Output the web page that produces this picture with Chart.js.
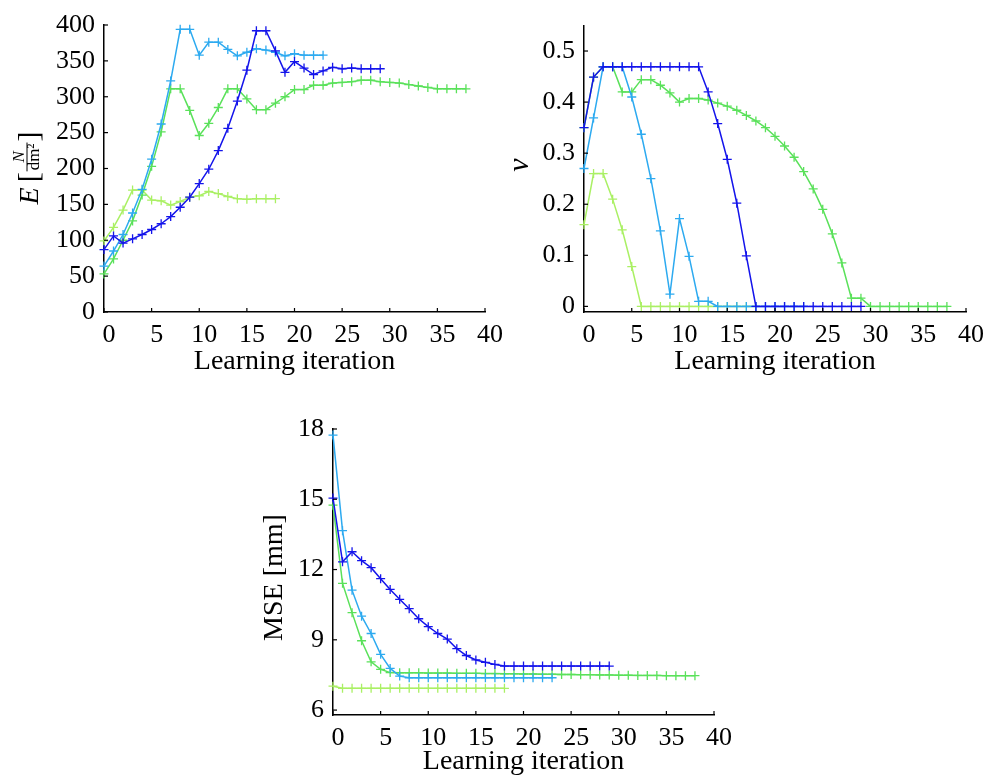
<!DOCTYPE html>
<html>
<head>
<meta charset="utf-8">
<script src="https://cdn.jsdelivr.net/npm/chart.js@4.4.0/dist/chart.umd.min.js"></script>
<style>
body{margin:0;background:#fff;width:984px;height:778px;position:relative;overflow:hidden}
canvas{position:absolute}
</style>
</head>
<body>
<canvas id="chartE" width="530" height="385" style="left:0;top:0"></canvas>
<canvas id="chartNu" width="492" height="385" style="left:492px;top:0"></canvas>
<canvas id="chartMse" width="492" height="388" style="left:246px;top:390px"></canvas>
<script>
// values, one list per run, index = learning iteration
const eDark  = [87,106,96,102,108,115,123,133,146,160,179,199,225,256,294,337,392,392,364,334,349,340,331,336,341,339,340,339,339,339]
const eLight = [64,85,108,138,171,213,262,322,394,394,358,376,376,366,357,362,367,365,362,357,360,358,358,358]
const eGreen = [53,74,100,127,163,203,251,311,311,281,246,263,285,311,311,297,282,282,291,300,310,310,316,316,319,320,321,323,323,321,320,319,317,315,313,311,311,311,311]
const eLime  = [99,118,142,170,170,156,155,149,154,160,162,168,165,161,158,157,158,158,158]

const nuDark  = [0.35,0.449,0.469,0.469,0.469,0.469,0.469,0.469,0.469,0.469,0.469,0.469,0.469,0.42,0.358,0.288,0.202,0.099,0,0,0,0,0,0,0,0,0,0,0,0]
const nuLight = [0.27,0.369,0.469,0.469,0.469,0.41,0.337,0.25,0.148,0.024,0.172,0.098,0.01,0.01,0,0,0,0,0,0,0,0,0,0]
const nuGreen = [0.35,0.449,0.469,0.469,0.42,0.42,0.444,0.444,0.433,0.418,0.40,0.407,0.407,0.404,0.398,0.392,0.384,0.374,0.363,0.35,0.333,0.314,0.292,0.264,0.23,0.19,0.142,0.085,0.016,0.016,0,0,0,0,0,0,0,0,0]
const nuLime  = [0.16,0.26,0.26,0.21,0.15,0.078,0,0,0,0,0,0,0,0,0,0,0,0,0]

const mseDark  = [15.05,12.33,12.76,12.38,12.08,11.61,11.15,10.73,10.33,9.9,9.56,9.27,9.03,8.62,8.33,8.14,8.04,7.95,7.88,7.88,7.88,7.88,7.88,7.88,7.88,7.88,7.88,7.88,7.88,7.88]
const mseLight = [17.74,13.66,11.12,10.01,9.27,8.38,7.78,7.45,7.38,7.38,7.38,7.38,7.38,7.38,7.38,7.38,7.38,7.38,7.38,7.38,7.38,7.38,7.38,7.38]
const mseGreen = [14.75,11.41,10.16,8.96,8.06,7.74,7.6,7.59,7.59,7.59,7.58,7.58,7.58,7.57,7.57,7.57,7.56,7.56,7.55,7.55,7.54,7.54,7.53,7.53,7.52,7.52,7.51,7.51,7.50,7.50,7.49,7.49,7.48,7.48,7.48,7.47,7.47,7.47,7.47]
const mseLime  = [7.02,6.93,6.93,6.93,6.93,6.93,6.93,6.93,6.93,6.93,6.93,6.93,6.93,6.93,6.93,6.93,6.93,6.93,6.93]

const xTicks   = [0,5,10,15,20,25,30,35,40]
const eTicks   = [0,50,100,150,200,250,300,350,400]
const nuTicks  = [0,0.1,0.2,0.3,0.4,0.5]
const mseTicks = [6,9,12,15,18]

const colDark = 'rgb(20,20,235)'
const colLight = 'rgb(45,170,240)'
const colGreen = 'rgb(90,225,90)'
const colLime = 'rgb(170,240,100)'

const serif = '"Liberation Serif", "Times New Roman", serif'

function makeSet(label, values, color) {
    return {
        label: label,
        data: values.map((v, i) => ({x: i, y: v})),
        borderColor: color,
        backgroundColor: color,
        borderWidth: 1.5,
        pointStyle: 'cross',
        pointRadius: 4.5,
        pointHoverRadius: 4.5,
        pointBorderWidth: 1.3,
        clip: false,
        tension: 0
    }
}

// small tick marks pointing into the plot
const innerTicks = {
    id: 'innerTicks',
    afterDraw(chart) {
        const c = chart.ctx
        const a = chart.chartArea
        c.save()
        c.strokeStyle = '#000'
        c.lineWidth = 1.2
        chart.scales.x.ticks.forEach(t => {
            const px = chart.scales.x.getPixelForValue(t.value)
            c.beginPath(); c.moveTo(px, a.bottom); c.lineTo(px, a.bottom - 4); c.stroke()
        })
        chart.scales.y.ticks.forEach(t => {
            const py = chart.scales.y.getPixelForValue(t.value)
            c.beginPath(); c.moveTo(a.left, py); c.lineTo(a.left + 4, py); c.stroke()
        })
        c.restore()
    }
}

function xTitle(chart, yc) {
    const c = chart.ctx, a = chart.chartArea
    c.save()
    c.fillStyle = '#000'
    c.font = '28px ' + serif
    c.textAlign = 'center'
    c.textBaseline = 'middle'
    c.fillText('Learning iteration', (a.left + a.right) / 2, yc)
    c.restore()
}

function rotatedText(c, txt, font, x, y) {
    c.save()
    c.translate(x, y)
    c.rotate(-Math.PI / 2)
    c.fillStyle = '#000'
    c.font = font
    c.textAlign = 'center'
    c.textBaseline = 'middle'
    c.fillText(txt, 0, 0)
    c.restore()
}

function eTitle(c) {
    c.save()
    c.translate(31, 168)
    c.rotate(-Math.PI / 2)
    c.fillStyle = '#000'
    c.strokeStyle = '#000'
    c.textBaseline = 'alphabetic'
    c.font = 'italic 28px ' + serif
    const wE = c.measureText('E').width
    c.font = '30px ' + serif
    const wB = c.measureText('[').width
    c.font = 'italic 17px ' + serif
    const wN = c.measureText('N').width
    c.font = '17px ' + serif
    const wD = c.measureText('dm²').width
    const wF = Math.max(wN, wD) + 4
    const total = wE + 5 + wB + wF + wB
    let x = -total / 2
    c.font = 'italic 28px ' + serif
    c.fillText('E', x, 7)
    x += wE + 5
    c.font = '30px ' + serif
    c.fillText('[', x, 7)
    x += wB
    c.font = 'italic 17px ' + serif
    c.fillText('N', x + (wF - wN) / 2, -7)
    c.lineWidth = 1
    c.beginPath(); c.moveTo(x + 1, -4); c.lineTo(x + wF - 1, -4); c.stroke()
    c.font = '17px ' + serif
    c.fillText('dm²', x + (wF - wD) / 2, 8)
    x += wF
    c.font = '30px ' + serif
    c.fillText(']', x, 7)
    c.restore()
}

function makeChart(id, canvasW, sets, yMin, yMax, yTicks, area, canvasH, titles) {
    const tickFont = {family: serif, size: 26}
    return new Chart(document.getElementById(id), {
        type: 'line',
        data: {datasets: sets},
        options: {
            responsive: false,
            animation: false,
            devicePixelRatio: 1,
            layout: {padding: {top: area.top, right: canvasW - area.right, left: 0, bottom: 0}},
            plugins: {legend: {display: false}, tooltip: {enabled: false}},
            scales: {
                x: {
                    type: 'linear', min: 0, max: 40,
                    afterBuildTicks: s => { s.ticks = xTicks.map(v => ({value: v})) },
                    afterFit: s => { s.height = canvasH - area.bottom; s.paddingLeft = 0; s.paddingRight = 0 },
                    grid: {display: true, drawOnChartArea: false, drawTicks: false},
                    border: {display: true, color: '#000', width: 1.5},
                    ticks: {font: tickFont, color: '#000', padding: 8, labelOffset: 5, maxRotation: 0, autoSkip: false}
                },
                y: {
                    type: 'linear', min: yMin, max: yMax,
                    afterBuildTicks: s => { s.ticks = yTicks.map(v => ({value: v})) },
                    afterFit: s => { s.width = area.left; s.paddingTop = 0; s.paddingBottom = 0 },
                    grid: {display: true, drawOnChartArea: false, drawTicks: false},
                    border: {display: true, color: '#000', width: 1.5},
                    ticks: {font: tickFont, color: '#000', padding: 9, autoSkip: false}
                }
            }
        },
        plugins: [innerTicks, {id: 'titles', afterDraw: titles}]
    })
}

makeChart('chartE', 530,
    [makeSet('run 1', eDark, colDark), makeSet('run 2', eLight, colLight), makeSet('run 3', eGreen, colGreen), makeSet('run 4', eLime, colLime)],
    0, 400, eTicks, {left: 104, right: 485, top: 25, bottom: 312}, 385,
    chart => { xTitle(chart, 362); eTitle(chart.ctx) })

makeChart('chartNu', 492,
    [makeSet('run 1', nuDark, colDark), makeSet('run 2', nuLight, colLight), makeSet('run 3', nuGreen, colGreen), makeSet('run 4', nuLime, colLime)],
    -0.011, 0.549, nuTicks, {left: 92, right: 474, top: 26, bottom: 312}, 385,
    chart => { xTitle(chart, 362); rotatedText(chart.ctx, 'ν', 'italic 30px ' + serif, 28, 165) })

makeChart('chartMse', 492,
    [makeSet('run 1', mseDark, colDark), makeSet('run 2', mseLight, colLight), makeSet('run 3', mseGreen, colGreen), makeSet('run 4', mseLime, colLime)],
    5.79, 18, mseTicks, {left: 87, right: 468, top: 39, bottom: 325}, 388,
    chart => { xTitle(chart, 372); rotatedText(chart.ctx, 'MSE [mm]', '28px ' + serif, 29, 187.5) })
</script>
</body>
</html>
